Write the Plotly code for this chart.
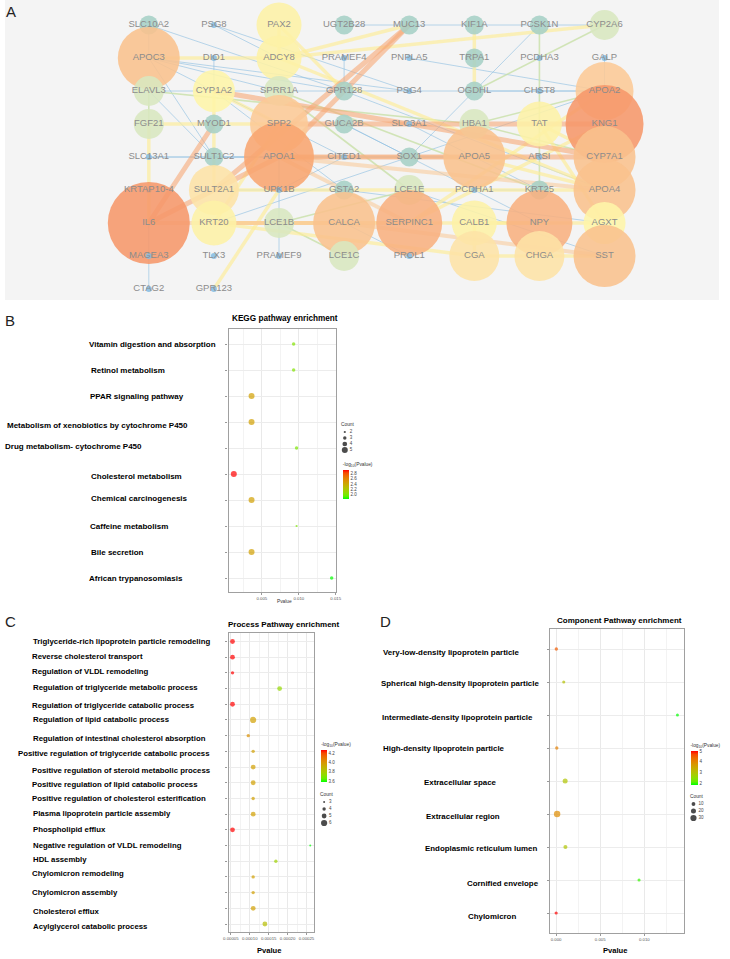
import numpy as np
import plotly.graph_objects as go

W, H = 730, 959
def fx(px): return px / W
def fy(py): return 1 - py / H

# ================= Panel A : PPI network =================
node_grid = [
    ["SLC10A2", "PSG8", "PAX2", "UGT2B28", "MUC13", "KIF1A", "PCSK1N", "CYP2A6"],
    ["APOC3", "DIO1", "ADCY8", "PRAMEF4", "PNPLA5", "TRPA1", "PCDHA3", "GALP"],
    ["ELAVL3", "CYP1A2", "SPRR1A", "GPR128", "PSG4", "OGDHL", "CHST8", "APOA2"],
    ["FGF21", "MYOD1", "SPP2", "GUCA2B", "SLC3A1", "HBA1", "TAT", "KNG1"],
    ["SLC13A1", "SULT1C2", "APOA1", "CITED1", "SOX1", "APOA5", "ARSI", "CYP7A1"],
    ["KRTAP10-4", "SULT2A1", "UPK1B", "GSTA2", "LCE1E", "PCDHA1", "KRT25", "APOA4"],
    ["IL6", "KRT20", "LCE1B", "CALCA", "SERPINC1", "CALB1", "NPY", "AGXT"],
    ["MAGEA3", "TLX3", "PRAMEF9", "LCE1C", "PROL1", "CGA", "CHGA", "SST"],
    ["CTAG2", "GPR123"],
]
node_degree = {
    "SLC10A2": 2, "PSG8": 1, "PAX2": 5, "UGT2B28": 2, "MUC13": 2, "KIF1A": 2, "PCSK1N": 2, "CYP2A6": 3,
    "APOC3": 8, "DIO1": 1, "ADCY8": 5, "PRAMEF4": 1, "PNPLA5": 1, "TRPA1": 2, "PCDHA3": 1, "GALP": 1,
    "ELAVL3": 3, "CYP1A2": 4, "SPRR1A": 3, "GPR128": 2, "PSG4": 1, "OGDHL": 2, "CHST8": 1, "APOA2": 7,
    "FGF21": 3, "MYOD1": 2, "SPP2": 7, "GUCA2B": 2, "SLC3A1": 1, "HBA1": 3, "TAT": 5, "KNG1": 11,
    "SLC13A1": 1, "SULT1C2": 2, "APOA1": 10, "CITED1": 1, "SOX1": 2, "APOA5": 8, "ARSI": 1, "CYP7A1": 8,
    "KRTAP10-4": 1, "SULT2A1": 6, "UPK1B": 1, "GSTA2": 2, "LCE1E": 3, "PCDHA1": 1, "KRT25": 2, "APOA4": 8,
    "IL6": 12, "KRT20": 5, "LCE1B": 3, "CALCA": 8, "SERPINC1": 9, "CALB1": 5, "NPY": 9, "AGXT": 4,
    "MAGEA3": 1, "TLX3": 1, "PRAMEF9": 1, "LCE1C": 3, "PROL1": 1, "CGA": 6, "CHGA": 6, "SST": 8,
    "CTAG2": 1, "GPR123": 1,
}
edges_orange = [
    ("IL6", "MYOD1"), ("IL6", "APOA1"), ("MUC13", "APOA1"), ("MUC13", "SULT2A1"),
    ("CYP1A2", "CYP7A1"), ("SPP2", "KNG1"), ("APOA1", "CYP7A1"),
]
edges_peach = [
    ("IL6", "SERPINC1"), ("CALCA", "SST"), ("APOA1", "SERPINC1"), ("APOA1", "APOA5"),
    ("KRT20", "CALCA"), ("APOA1", "APOA4"),
]
edges_yellow = [
    ("FGF21", "IL6"), ("APOC3", "ADCY8"), ("ADCY8", "CYP2A6"), ("PAX2", "GPR128"),
    ("KIF1A", "TRPA1"), ("TRPA1", "OGDHL"), ("FGF21", "SPP2"), ("KRT20", "LCE1B"),
    ("LCE1B", "CALCA"), ("CGA", "CHGA"), ("CHGA", "SST"), ("CALB1", "NPY"),
    ("NPY", "AGXT"), ("GPR123", "UPK1B"), ("SULT2A1", "CYP1A2"), ("CYP1A2", "SPP2"),
    ("TAT", "AGXT"), ("TAT", "CYP7A1"), ("CALB1", "CGA"), ("KRT20", "SPP2"),
    ("ADCY8", "APOA4"), ("PAX2", "ADCY8"), ("KRT20", "CGA"), ("SULT2A1", "APOA4"),
    ("KRT20", "NPY"), ("ADCY8", "MUC13"), ("KNG1", "SERPINC1"), ("APOA5", "APOA4"),
    ("SERPINC1", "APOA2"),
]
edges_green = [
    ("PCSK1N", "PCDHA3"), ("PCDHA3", "CHST8"), ("CHST8", "TAT"), ("TAT", "ARSI"),
    ("ARSI", "KRT25"), ("ELAVL3", "HBA1"), ("HBA1", "APOA2"), ("LCE1E", "LCE1B"),
    ("LCE1C", "LCE1B"), ("SPRR1A", "LCE1E"), ("SPRR1A", "KRT25"), ("HBA1", "CYP7A1"),
    ("ELAVL3", "FGF21"), ("CYP2A6", "OGDHL"),
]
edges_blue = [
    ("UGT2B28", "MUC13"), ("MUC13", "KIF1A"), ("KIF1A", "PCSK1N"), ("PCSK1N", "CYP2A6"),
    ("PSG8", "ADCY8"), ("PSG8", "PSG4"), ("SLC10A2", "APOC3"), ("SLC10A2", "GPR128"),
    ("APOC3", "GPR128"), ("APOC3", "SPRR1A"), ("APOC3", "SULT1C2"), ("CTAG2", "MAGEA3"),
    ("MAGEA3", "IL6"), ("SLC13A1", "SULT1C2"), ("SULT1C2", "CITED1"), ("UPK1B", "LCE1B"),
    ("LCE1B", "PRAMEF9"), ("PRAMEF4", "GPR128"), ("GUCA2B", "SOX1"), ("SOX1", "APOA2"),
    ("PSG4", "CHST8"), ("GALP", "APOA2"), ("CITED1", "APOA5"), ("SULT1C2", "APOA5"),
    ("CHST8", "APOA2"), ("PCDHA1", "KRT25"), ("PROL1", "CALCA"), ("ELAVL3", "PSG4"),
    ("GSTA2", "SULT2A1"), ("CYP1A2", "GSTA2"), ("OGDHL", "APOA2"), ("GPR128", "APOA4"),
    ("SLC3A1", "KRT25"), ("UPK1B", "CITED1"), ("APOC3", "PSG4"), ("DIO1", "CYP1A2"),
    ("PCSK1N", "SOX1"), ("GSTA2", "AGXT"), ("UPK1B", "APOA1"), ("ELAVL3", "SULT1C2"),
    ("SOX1", "KRT20"), ("PNPLA5", "APOA2"), ("LCE1E", "SST"), ("GUCA2B", "NPY"),
    ("APOC3", "CITED1"), ("SLC13A1", "APOA1"),
]

# ================= Panel B : KEGG =================
kegg_terms = ["Vitamin digestion and absorption", "Retinol metabolism", "PPAR signaling pathway",
              "Metabolism of xenobiotics by cytochrome P450", "Drug metabolism- cytochrome P450",
              "Cholesterol metabolism", "Chemical carcinogenesis", "Caffeine metabolism",
              "Bile secretion", "African trypanosomiasis"]
kegg_pvalue = [0.0093, 0.0093, 0.0036, 0.0036, 0.0097, 0.0012, 0.0036, 0.0097, 0.0036, 0.01445]
kegg_count = [3, 3, 5, 5, 3, 5, 5, 2, 5, 3]
kegg_xticks = [0.005, 0.010, 0.015]
kegg_legend_counts = [2, 3, 4, 5]
kegg_cbar_ticks = [2.0, 2.2, 2.4, 2.6, 2.8]

# ================= Panel C : Process =================
proc_terms = ["Triglyceride-rich lipoprotein particle remodeling", "Reverse cholesterol transport",
              "Regulation of VLDL remodeling", "Regulation of triglyceride metabolic process",
              "Regulation of triglyceride catabolic process", "Regulation of lipid catabolic process",
              "Regulation of intestinal cholesterol absorption",
              "Positive regulation of triglyceride catabolic process",
              "Positive regulation of steroid metabolic process",
              "Positive regulation of lipid catabolic process",
              "Positive regulation of cholesterol esterification",
              "Plasma lipoprotein particle assembly", "Phospholipid efflux",
              "Negative regulation of VLDL remodeling", "HDL assembly", "Chylomicron remodeling",
              "Chylomicron assembly", "Cholesterol efflux", "Acylglycerol catabolic process"]
proc_pvalue = [0.0000544, 0.0000544, 0.0000544, 0.000179, 0.0000544, 0.000109, 0.0000961,
               0.000109, 0.000109, 0.000109, 0.000109, 0.000109, 0.0000544, 0.00026,
               0.000169, 0.000109, 0.000109, 0.000109, 0.000140]
proc_count = [5, 5, 4, 5, 5, 6, 4, 4, 5, 5, 4, 5, 5, 3, 4, 4, 4, 5, 5]
proc_xticks = [0.00005, 0.00010, 0.00015, 0.00020, 0.00025]
proc_legend_counts = [3, 4, 5, 6]
proc_cbar_ticks = [3.6, 3.8, 4.0, 4.2]

# ================= Panel D : Component =================
comp_terms = ["Very-low-density lipoprotein particle", "Spherical high-density lipoprotein particle",
              "Intermediate-density lipoprotein particle", "High-density lipoprotein particle",
              "Extracellular space", "Extracellular region", "Endoplasmic reticulum lumen",
              "Cornified envelope", "Chylomicron"]
comp_pvalue = [0.00003, 0.00087, 0.01375, 0.00008, 0.00103, 0.00012, 0.00106, 0.0094, 0.00001]
comp_count = [6, 4, 3, 6, 20, 32, 12, 4, 5]
comp_xticks = [0.000, 0.005, 0.010]
comp_legend_counts = [10, 20, 30]
comp_cbar_ticks = [2, 3, 4, 5]

# ---------------- layout-only constants ----------------
kegg_label_left = [88, 90, 89, 5, 3, 90, 90, 89, 90, 88]
kegg_label_dy = [0, 0, 0, 3, -2, 2, -2, 0, 0, 0]
proc_label_left = [31, 30, 30, 31, 30, 31, 31, 16, 30, 30, 30, 31, 31, 31, 31, 30, 30, 31, 31]
proc_label_dy = [0, -1, -1, -1, 1, 0, 3, 2, 3, 2, 0, -1, 0, 0, -2, -3, 0, 3, 2]
comp_label_left = [387, 385, 386, 387, 428, 430, 429, 472, 473]
comp_label_dy = [3, 1, 2, 0, 1, 2, 1, 3, 3]
LEFT_SHIFT = -5

BOLDF = "Liberation Sans, Arial, sans-serif"
ARIAL = "Liberation Sans, Arial, sans-serif"

# ---------- ggplot-like green->red Lab gradient ----------
M = np.array([[0.4124, 0.3576, 0.1805], [0.2126, 0.7152, 0.0722], [0.0193, 0.1192, 0.9505]])
Minv = np.linalg.inv(M)
WP = np.array([0.95047, 1.0, 1.08883])
def _f(t): return np.where(t > (6/29)**3, np.cbrt(t), t/(3*(6/29)**2) + 4/29)
def _finv(t): return np.where(t > 6/29, t**3, 3*(6/29)**2*(t - 4/29))
def rgb2lab(rgb):
    c = np.array(rgb, float) / 255
    lin = np.where(c <= 0.04045, c/12.92, ((c + 0.055)/1.055)**2.4)
    xyz = M @ lin / WP
    a, b, c2 = _f(xyz)
    return np.array([116*b - 16, 500*(a - b), 200*(b - c2)])
def lab2rgb(lab):
    L, a, b = lab
    fy_ = (L + 16)/116; fx_ = fy_ + a/500; fz_ = fy_ - b/200
    xyz = np.array([_finv(fx_), _finv(fy_), _finv(fz_)]) * WP
    lin = np.clip(Minv @ xyz, 0, 1)
    s = np.where(lin <= 0.0031308, 12.92*lin, 1.055*lin**(1/2.4) - 0.055)
    return np.clip(np.round(s*255), 0, 255).astype(int)
lab_lo, lab_hi = rgb2lab([0, 255, 0]), rgb2lab([255, 0, 0])
colorscale = []
for t in np.linspace(0, 1, 11):
    r, g, b = lab2rgb(lab_lo + (lab_hi - lab_lo)*t)
    colorscale.append([float(t), f"rgb({r},{g},{b})"])

fig = go.Figure()

# ---------------- Panel A drawing ----------------
pos = {}
for r, row in enumerate(node_grid):
    for c, name in enumerate(row):
        pos[name] = (c, r)

edge_styles = [
    (edges_blue, "rgba(140,190,225,0.6)", 1.0),
    (edges_green, "rgba(200,224,168,0.8)", 1.6),
    (edges_yellow, "rgba(253,236,150,0.65)", 3.5),
    (edges_peach, "rgba(250,200,150,0.55)", 4.0),
    (edges_orange, "rgba(246,168,118,0.6)", 5.0),
]
for elist, col, wdt in edge_styles:
    xs, ys = [], []
    for a, b in elist:
        xs += [pos[a][0], pos[b][0], None]
        ys += [pos[a][1], pos[b][1], None]
    fig.add_trace(go.Scatter(x=xs, y=ys, mode="lines", line=dict(color=col, width=wdt),
                             hoverinfo="skip", showlegend=False, xaxis="x", yaxis="y"))

deg_size = {1: 6, 2: 19, 3: 30, 4: 42, 5: 45, 6: 50, 7: 58, 8: 62, 9: 66, 10: 70, 11: 78, 12: 82}
deg_color = {1: "#86bde3", 2: "#a6d0c6", 3: "#d8e7bf", 4: "#fef5a8", 5: "#fdf1a6", 6: "#fde2a6",
             7: "#fcca96", 8: "#f9c18d", 9: "#f8b07f", 10: "#f8a56f", 11: "#f6976a", 12: "#f6976a"}
names = [n for row in node_grid for n in row]
fig.add_trace(go.Scatter(
    x=[pos[n][0] for n in names], y=[pos[n][1] for n in names], mode="markers+text",
    text=names, textposition="middle center",
    textfont=dict(family=ARIAL, size=9.5, color="#8c8c8c"),
    marker=dict(size=[deg_size[node_degree[n]] for n in names],
                color=[deg_color[node_degree[n]] for n in names], opacity=0.88, line=dict(width=0)),
    hoverinfo="text", showlegend=False, xaxis="x", yaxis="y"))

# ---------------- dot plots ----------------
def dot_panel(ax, terms, pvals, counts, dmin, dmax, cmin_c, cmax_c, cbar):
    pv = np.array(pvals)
    nl = -np.log10(pv)
    cnt = np.array(counts, float)
    sizes = dmin + (dmax - dmin)*(cnt - cmin_c)/(cmax_c - cmin_c)
    fig.add_trace(go.Scatter(
        x=pv, y=list(range(len(terms))), mode="markers",
        marker=dict(size=sizes, color=nl, colorscale=colorscale, cmin=nl.min(), cmax=nl.max(),
                    line=dict(width=0), showscale=True, colorbar=cbar),
        text=terms, hoverinfo="text+x", showlegend=False, xaxis="x" + ax, yaxis="y" + ax))

def cbar(x0, ytop, length, thick, ticks, fmt):
    return dict(x=fx(x0), xanchor="left", y=fy(ytop), yanchor="top", len=length, lenmode="pixels",
                thickness=thick, thicknessmode="pixels", outlinewidth=0, xpad=0, ypad=0,
                tickvals=ticks, tickformat=fmt, ticks="", ticklabelposition="outside",
                tickfont=dict(size=4.5, color="#444", family=ARIAL),
                title=dict(text="-log<sub>10</sub>(Pvalue)", side="top",
                           font=dict(size=4.8, color="#333", family=ARIAL)))

dot_panel("2", kegg_terms, kegg_pvalue, kegg_count, 2.2, 6.0, 2, 5,
          cbar(343, 459, 40, 6, kegg_cbar_ticks, ".1f"))
dot_panel("3", proc_terms, proc_pvalue, proc_count, 2.0, 6.2, 3, 6,
          cbar(321, 739, 43, 6, proc_cbar_ticks, ".1f"))
dot_panel("4", comp_terms, comp_pvalue, comp_count, 3.0, 6.2, 3, 30,
          cbar(696, 740, 45, 7, comp_cbar_ticks, "d"))

# count legends on overlay pixel axis
def count_legend(counts, x_dot, y0, step, dmin, dmax, cmin_c, cmax_c, title_xy):
    cnt = np.array(counts, float)
    sizes = dmin + (dmax - dmin)*(cnt - cmin_c)/(cmax_c - cmin_c)
    ys = [y0 + i*step for i in range(len(counts))]
    fig.add_trace(go.Scatter(x=[x_dot]*len(counts), y=ys, mode="markers",
                             marker=dict(size=sizes, color="black", line=dict(width=0)),
                             hoverinfo="skip", showlegend=False, xaxis="x5", yaxis="y5"))
    fig.add_trace(go.Scatter(x=[x_dot + 5]*len(counts), y=ys, mode="text",
                             text=[str(c) for c in counts], textposition="middle right",
                             textfont=dict(size=4.5, color="#444", family=ARIAL),
                             hoverinfo="skip", showlegend=False, xaxis="x5", yaxis="y5"))
    fig.add_annotation(x=fx(title_xy[0]), y=fy(title_xy[1]), xref="paper", yref="paper",
                       text="Count", showarrow=False, xanchor="left", yanchor="middle",
                       xshift=LEFT_SHIFT + 2, font=dict(size=4.8, color="#333", family=ARIAL))

count_legend(kegg_legend_counts, 345, 432, 6, 2.2, 6.0, 2, 5, (342, 424))
count_legend(proc_legend_counts, 324, 802, 7, 2.0, 6.2, 3, 6, (321, 794))
count_legend(comp_legend_counts, 699, 804, 7, 3.0, 6.2, 3, 30, (696, 796))

# category labels
def term_labels(ax, terms, lefts, dys, size):
    for i, (t, l, d) in enumerate(zip(terms, lefts, dys)):
        fig.add_annotation(x=fx(l), y=i, xref="paper", yref="y" + ax, text="<b>" + t + "</b>",
                           showarrow=False, xanchor="left", yanchor="middle", yshift=-d,
                           xshift=LEFT_SHIFT, font=dict(family=BOLDF, size=size, color="black"))

term_labels("2", kegg_terms, kegg_label_left, kegg_label_dy, 8.0)
term_labels("3", proc_terms, proc_label_left, proc_label_dy, 7.8)
term_labels("4", comp_terms, comp_label_left, comp_label_dy, 7.9)

# titles & panel letters
def txt(x, y, s, size, family=ARIAL, color="black", anchor="center", xshift=0):
    fig.add_annotation(x=fx(x), y=fy(y), xref="paper", yref="paper", text=s, showarrow=False,
                       xanchor=anchor, yanchor="middle", xshift=xshift,
                       font=dict(size=size, family=family, color=color))

txt(284, 318, "<b>KEGG pathway enrichment</b>", 8.2, BOLDF)
txt(283, 624, "<b>Process Pathway enrichment</b>", 8.0, BOLDF)
txt(624, 620, "<b>Component Pathway enrichment</b>", 8.0, BOLDF)
txt(284, 601, "Pvalue", 4.8, ARIAL, "#333")
txt(268, 950, "<b>Pvalue</b>", 7.6, BOLDF)
txt(619, 950, "<b>Pvalue</b>", 7.6, BOLDF)
txt(4, 12, "A", 15, ARIAL, "#222", "left", LEFT_SHIFT)
txt(3, 320, "B", 15, ARIAL, "#222", "left", LEFT_SHIFT)
txt(3, 621, "C", 15, ARIAL, "#222", "left", LEFT_SHIFT)
txt(384, 621, "D", 15, ARIAL, "#222", "left", LEFT_SHIFT)

# ---------------- layout ----------------
def panel_axes(x0, x1, y0, y1, xr, yr, xticks, fmt, minor_dtick, ntick):
    xa = dict(domain=[fx(x0), fx(x1)], range=xr, tickvals=xticks, tickformat=fmt,
              showgrid=True, gridcolor="#e9e9e9", gridwidth=0.7, zeroline=False,
              showline=True, mirror=True, linecolor="#a0a0a0", linewidth=1.2,
              ticks="outside", ticklen=2, tickcolor="#999", tickwidth=0.6,
              tickfont=dict(size=4.3, color="#555", family=ARIAL),
              minor=dict(dtick=minor_dtick, showgrid=True, gridcolor="#f3f3f3", gridwidth=0.6),
              fixedrange=True)
    ya = dict(domain=[fy(y1), fy(y0)], range=yr, tickvals=list(range(ntick)),
              showticklabels=False, showgrid=True, gridcolor="#ececec", gridwidth=0.7,
              zeroline=False, showline=True, mirror=True, linecolor="#a0a0a0", linewidth=1.2,
              ticks="outside", ticklen=2, tickcolor="#999", tickwidth=0.6, fixedrange=True)
    return xa, ya

xa2, ya2 = panel_axes(227, 336, 329, 592, [0.00049, 0.01503], [9.538, -0.577],
                      kegg_xticks, ".3f", 0.0025, len(kegg_terms))
xa3, ya3 = panel_axes(227, 314, 633, 932, [0.0000440, 0.0002706], [18.51, -0.54],
                      proc_xticks, ".5f", 0.000025, len(proc_terms))
xa4, ya4 = panel_axes(553, 689, 629, 933, [-0.000725, 0.01445], [8.606, -0.606],
                      comp_xticks, ".3f", 0.0025, len(comp_terms))
xa2["anchor"], ya2["anchor"] = "y2", "x2"
xa3["anchor"], ya3["anchor"] = "y3", "x3"
xa4["anchor"], ya4["anchor"] = "y4", "x4"

hidden = dict(visible=False, showgrid=False, zeroline=False, fixedrange=True)
fig.update_layout(
    width=W, height=H, margin=dict(l=0, r=0, t=0, b=0),
    paper_bgcolor="white", plot_bgcolor="rgba(0,0,0,0)",
    xaxis=dict(domain=[0, fx(725)], range=[-146/66.1, (725 - 146)/66.1], anchor="y", **hidden),
    yaxis=dict(domain=[fy(300), 1], range=[(300 - 25)/33, -25/33], anchor="x", **hidden),
    xaxis2=xa2, yaxis2=ya2, xaxis3=xa3, yaxis3=ya3, xaxis4=xa4, yaxis4=ya4,
    xaxis5=dict(domain=[0, 1], range=[0, W], anchor="y5", **hidden),
    yaxis5=dict(domain=[0, 1], range=[H, 0], anchor="x5", **hidden),
    shapes=[dict(type="rect", xref="paper", yref="paper", x0=0, x1=fx(725), y0=fy(300), y1=1,
                 fillcolor="#f4f4f4", line=dict(width=0), layer="below")],
    font=dict(family=ARIAL),
)

fig.write_html("out.html", config={"displayModeBar": False},
               post_script="document.body.style.margin='0px';")
